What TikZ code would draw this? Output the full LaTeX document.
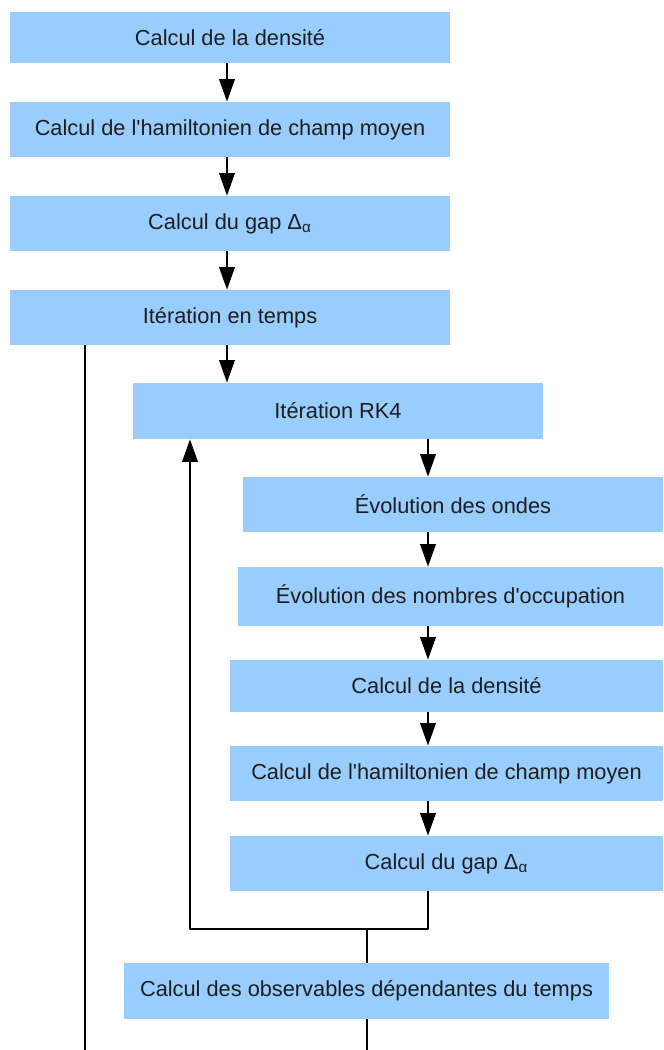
\documentclass[tikz,border=0pt]{standalone}
\usepackage{fontspec}
\setmainfont{Liberation Sans}
\usetikzlibrary{arrows.meta,calc}
\definecolor{boxblue}{RGB}{153,204,255}
\definecolor{txtdark}{RGB}{30,30,30}

\begin{document}
\begin{tikzpicture}[x=0.02cm,y=-0.02cm,
  etape/.style={fill=boxblue,text=txtdark,inner sep=0pt,minimum height=1.1cm,
    font=\fontsize{12.4}{14}\selectfont},
  fleche/.style={line width=1.1pt,-{Triangle[length=0.45cm,width=0.31cm]}},
  trait/.style={line width=1.1pt,line join=round}]
  \useasboundingbox (0,0) rectangle (663,1050);
  % boucle en temps
  \node[etape,minimum width=8.8cm,minimum height=1.02cm] (dens) at (230,37.5) {Calcul de la densité};
  \node[etape,minimum width=8.8cm] (hmf) at (230,129.5) {Calcul de l\textquotesingle hamiltonien de champ moyen};
  \node[etape,minimum width=8.8cm] (gap) at (230,223.5) {Calcul du gap Δ\textsubscript{α}};
  \node[etape,minimum width=8.8cm] (temps) at (230,317.5) {Itération en temps};
  % boucle RK4
  \node[etape,minimum width=8.2cm,minimum height=1.12cm] (rk) at (338,411) {Itération RK4};
  \node[etape,minimum width=8.4cm] (ondes) at (453,504.5) {Évolution des ondes};
  \node[etape,minimum width=8.5cm,minimum height=1.18cm] (occ) at (450.5,596.5) {Évolution des nombres d\textquotesingle occupation};
  \node[etape,minimum width=8.66cm,minimum height=1.04cm] (densrk) at (446.5,686) {Calcul de la densité};
  \node[etape,minimum width=8.66cm] (hmfrk) at (446.5,773.5) {Calcul de l\textquotesingle hamiltonien de champ moyen};
  \node[etape,minimum width=8.66cm] (gaprk) at (446.5,863.5) {Calcul du gap Δ\textsubscript{α}};
  \node[etape,minimum width=9.7cm,minimum height=1.12cm] (obs) at (366.5,991) {Calcul des observables dépendantes du temps};

  \coordinate (colG) at (227,0);
  \coordinate (colR) at (428,0);
  \coordinate (retD) at (428,929);
  \coordinate (retM) at (367,929);
  \coordinate (retG) at (190,929);
  \coordinate (finM) at (367,1050);
  \coordinate (finG) at (85,1050);

  \draw[fleche] (dens.south -| colG) -- (hmf.north -| colG);
  \draw[fleche] (hmf.south -| colG) -- (gap.north -| colG);
  \draw[fleche] (gap.south -| colG) -- (temps.north -| colG);
  \draw[fleche] (temps.south -| colG) -- (rk.north -| colG);
  \draw[fleche] (rk.south -| colR) -- (ondes.north -| colR);
  \draw[fleche] (ondes.south -| colR) -- (occ.north -| colR);
  \draw[fleche] (occ.south -| colR) -- (densrk.north -| colR);
  \draw[fleche] (densrk.south -| colR) -- (hmfrk.north -| colR);
  \draw[fleche] (hmfrk.south -| colR) -- (gaprk.north -| colR);
  \draw[trait,fleche] (gaprk.south -| colR) -- (retD) -- (retG) -- (rk.south -| retG);
  \draw[trait] (retM) -- (obs.north -| retM);
  \draw[trait] (obs.south -| finM) -- (finM);
  \draw[trait] (temps.south -| finG) -- (finG);
\end{tikzpicture}
\end{document}
